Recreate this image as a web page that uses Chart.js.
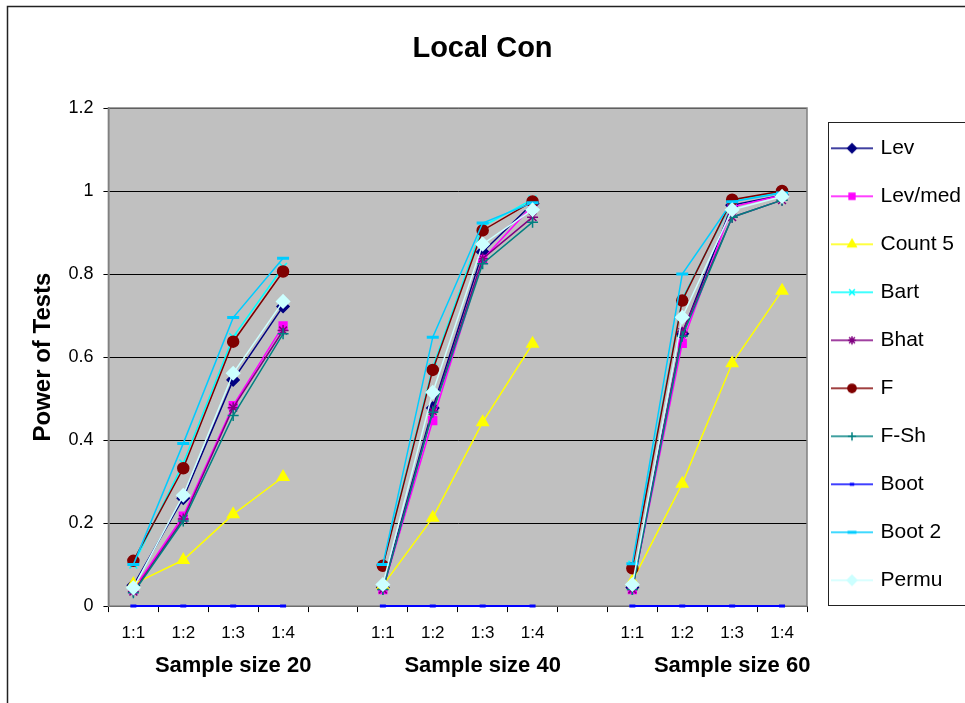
<!DOCTYPE html>
<html>
<head>
<meta charset="utf-8">
<script src="https://cdn.jsdelivr.net/npm/chart.js@4/dist/chart.umd.min.js"></script>
<style>
  html, body { margin: 0; padding: 0; background: #fff; }
  #wrap { width: 965px; height: 703px; }
</style>
</head>
<body>
<div id="wrap"><canvas id="LocalConChart" width="965" height="703"></canvas></div>
<script>
// categories (blank slots separate the three sample sizes)
const ratios = ['1:1', '1:2', '1:3', '1:4', '', '1:1', '1:2', '1:3', '1:4', '', '1:1', '1:2', '1:3', '1:4'];
const groupLabels = ['', '', 'Sample size 20', '', '', '', '', 'Sample size 40', '', '', '', '', 'Sample size 60', ''];
const yTicks = [0, 0.2, 0.4, 0.6, 0.8, 1, 1.2];

// power of each test
const lev     = [0.05, 0.26, 0.545, 0.722, null, 0.045, 0.477, 0.853, 0.97, null, 0.045, 0.656, 0.966, 0.99];
const levMed  = [0.04, 0.217, 0.483, 0.675, null, 0.04, 0.447, 0.835, 0.965, null, 0.04, 0.633, 0.962, 0.99];
const count5  = [0.053, 0.111, 0.221, 0.311, null, 0.05, 0.213, 0.443, 0.632, null, 0.06, 0.295, 0.585, 0.76];
const bart    = [0.10, 0.344, 0.648, 0.817, null, 0.10, 0.575, 0.915, 0.98, null, 0.10, 0.74, 0.975, 0.998];
const bhat    = [0.035, 0.21, 0.478, 0.664, null, 0.04, 0.47, 0.837, 0.937, null, 0.04, 0.66, 0.937, 0.978];
const fTest   = [0.109, 0.332, 0.637, 0.806, null, 0.097, 0.569, 0.905, 0.975, null, 0.091, 0.736, 0.979, 1.0];
const fSh     = [0.032, 0.205, 0.459, 0.656, null, 0.04, 0.467, 0.825, 0.925, null, 0.04, 0.65, 0.937, 0.978];
const boot    = [0, 0, 0, 0, null, 0, 0, 0, 0, null, 0, 0, 0, 0];
const boot2   = [0.10, 0.392, 0.695, 0.838, null, 0.10, 0.648, 0.923, 0.972, null, 0.102, 0.80, 0.974, 0.995];
const permu   = [0.044, 0.267, 0.561, 0.734, null, 0.052, 0.515, 0.872, 0.955, null, 0.052, 0.696, 0.955, 0.987];

const FONT = "'Liberation Sans', Arial, sans-serif";

const series = [
    { label: 'Lev',     data: lev,    color: '#000080', style: 'rectRot',  r: 6 },
    { label: 'Lev/med', data: levMed, color: '#FF00FF', style: 'rect',     r: 5.5 },
    { label: 'Count 5', data: count5, color: '#FFFF00', style: 'triangle', r: 6.5 },
    { label: 'Bart',    data: bart,   color: '#00FFFF', style: 'crossRot', r: 5.5 },
    { label: 'Bhat',    data: bhat,   color: '#800080', style: 'star',     r: 5.5 },
    { label: 'F',       data: fTest,  color: '#800000', style: 'circle',   r: 5.5 },
    { label: 'F-Sh',    data: fSh,    color: '#008080', style: 'cross',    r: 5.5 },
    { label: 'Boot',    data: boot,   color: '#0000FF', style: 'line',     r: 3 },
    { label: 'Boot 2',  data: boot2,  color: '#00CCFF', style: 'line',     r: 6 },
    { label: 'Permu',   data: permu,  color: '#CCFFFF', style: 'rectRot',  r: 6.5 }
];

// small line+marker pictures for the legend
function legendIcon(s) {
    const c = document.createElement('canvas');
    c.width = 42; c.height = 16;
    const g = c.getContext('2d');
    g.strokeStyle = s.color;
    g.lineWidth = 1.5;
    g.beginPath(); g.moveTo(0, 8); g.lineTo(42, 8); g.stroke();
    g.fillStyle = s.color;
    g.lineWidth = s.style === 'line' ? 3 : 1.5;
    Chart.helpers.drawPoint(g, { pointStyle: s.style, radius: s.r * 0.75, rotation: 0, borderWidth: g.lineWidth }, 21, 8);
    return c;
}

const plotBackground = {
    id: 'plotBackground',
    beforeDraw(chart) {
        const { ctx, chartArea: a } = chart;
        ctx.save();
        ctx.fillStyle = '#fff';
        ctx.fillRect(0, 0, chart.width, chart.height);
        ctx.fillStyle = '#C0C0C0';
        ctx.fillRect(a.left, a.top, a.right - a.left, a.bottom - a.top);
        ctx.restore();
    },
    beforeDatasetsDraw(chart) {
        const { ctx, chartArea: a } = chart;
        ctx.save();
        ctx.strokeStyle = '#808080';
        ctx.lineWidth = 1.5;
        ctx.strokeRect(a.left, a.top, a.right - a.left, a.bottom - a.top);
        ctx.restore();
    },
    afterDraw(chart) {
        const { ctx } = chart;
        ctx.save();
        // outer chart border
        ctx.strokeStyle = '#222';
        ctx.lineWidth = 1.5;
        ctx.strokeRect(7.5, 6.5, 2000, 2000);
        // legend frame
        const hb = chart.legend.legendHitBoxes;
        if (hb && hb.length) {
            const first = hb[0], last = hb[hb.length - 1];
            ctx.lineWidth = 1;
            const top = Math.round(first.top - 16) + 0.5;
            const bottom = Math.round(last.top + last.height + 14) + 0.5;
            const left = Math.round(first.left - 6) + 0.5;
            ctx.strokeRect(left, top, 2000, bottom - top);
        }
        ctx.restore();
    }
};

const ctx = document.getElementById('LocalConChart').getContext('2d');
new Chart(ctx, {
    type: 'line',
    data: {
        labels: ratios,
        datasets: series.map((s, i) => ({
            label: s.label,
            data: s.data,
            borderColor: s.color,
            backgroundColor: s.color,
            borderWidth: s.label === 'Boot' ? 2 : 1.5,
            pointStyle: s.style,
            pointRadius: s.r,
            pointBorderWidth: s.style === 'line' ? 3 : 1.5,
            pointBorderColor: s.color,
            pointBackgroundColor: s.color,
            tension: 0,
            clip: 6,
            order: series.length - i
        }))
    },
    options: {
        responsive: false,
        animation: false,
        layout: { padding: { left: 0, right: 0, top: 0, bottom: 25.5 } },
        plugins: {
            tooltip: { enabled: false },
            title: {
                display: true,
                text: 'Local Con',
                color: '#000',
                font: { family: FONT, size: 29, weight: 'bold' },
                padding: { top: 31.5, bottom: 41.7 }
            },
            legend: {
                position: 'right',
                align: 'start',
                maxWidth: 158,
                title: { display: true, text: ' ', font: { size: 10 }, padding: { top: 98.8, bottom: 0 } },
                labels: {
                    color: '#000',
                    font: { family: FONT, size: 21 },
                    padding: 27,
                    usePointStyle: true,
                    pointStyleWidth: 36,
                    generateLabels(chart) {
                        return chart.data.datasets.map((ds, i) => ({
                            text: ds.label,
                            fontColor: '#000',
                            pointStyle: legendIcon(series[i]),
                            datasetIndex: i,
                            hidden: false,
                            lineWidth: 0
                        }));
                    }
                }
            }
        },
        scales: {
            x: {
                type: 'category',
                offset: true,
                grid: { offset: true, drawOnChartArea: false, drawTicks: true, tickLength: 6, color: '#000' },
                border: { display: false },
                ticks: { color: '#000', font: { family: FONT, size: 17 }, padding: 10.8, maxRotation: 0, autoSkip: false }
            },
            x2: {
                type: 'category',
                position: 'bottom',
                labels: groupLabels,
                offset: true,
                grid: { display: false, drawTicks: false },
                border: { display: false },
                ticks: { color: '#000', font: { family: FONT, size: 22, weight: 'bold' }, padding: -1.5, maxRotation: 0, autoSkip: false }
            },
            y: {
                min: 0,
                max: 1.2,
                afterBuildTicks(axis) { axis.ticks = yTicks.map(v => ({ value: v })); },
                grid: { color: '#000', lineWidth: 1, tickLength: 5 },
                border: { color: '#808080', width: 1.5 },
                ticks: {
                    color: '#000',
                    font: { family: FONT, size: 18 },
                    padding: 10,
                    callback: v => String(Math.round(v * 10) / 10)
                },
                title: {
                    display: true,
                    text: 'Power of Tests',
                    color: '#000',
                    font: { family: FONT, size: 24, weight: 'bold' },
                    padding: { top: 29, bottom: 0.6 }
                }
            }
        }
    },
    plugins: [plotBackground]
});
</script>
</body>
</html>
